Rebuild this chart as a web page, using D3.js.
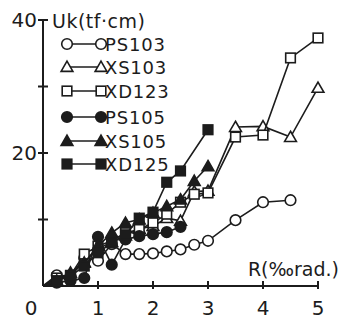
<!DOCTYPE html>
<html>
<head>
<meta charset="utf-8">
<script src="https://cdn.jsdelivr.net/npm/d3@7"></script>
<style>
  body { margin: 0; background: #fff; }
  svg { display: block; }
  text { font-family: "DejaVu Sans", sans-serif; fill: #1c1c1c; }
</style>
</head>
<body>
<div id="chart"></div>
<script>
// data
var rSteps = [0, 0.25, 0.5, 0.75, 1.0, 1.25, 1.5, 1.75, 2.0, 2.25, 2.5, 2.75, 3.0, 3.5, 4.0, 4.5, 5.0]

var ps103R = [0, 0.25, 0.5, 0.75, 1.0, 1.25, 1.5, 1.75, 2.0, 2.25, 2.5, 2.75, 3.0, 3.5, 4.0, 4.5]
var ps103U = [0, 1.6, 1.5, 4.2, 3.8, 6.3, 4.8, 4.8, 4.9, 5.2, 5.5, 6.2, 6.8, 9.9, 12.6, 12.9]

var xs103R = rSteps
var xs103U = [0, 0.8, 1.6, 3.6, 5.6, 6.6, 7.6, 8.6, 9.0, 10.2, 9.8, 14.2, 14.3, 23.9, 24.0, 22.4, 29.8]

var xd123R = rSteps
var xd123U = [0, 1.2, 1.6, 4.8, 6.0, 6.8, 8.0, 8.5, 9.5, 10.8, 12.6, 13.8, 14.0, 22.4, 22.7, 34.3, 37.3]

var ps105R = [0, 0.25, 0.5, 0.75, 1.0, 1.25, 1.5, 1.75, 2.0, 2.25, 2.5]
var ps105U = [0, 0.5, 0.8, 1.2, 7.4, 3.2, 7.0, 7.5, 7.8, 8.1, 8.9]

var xs105R = [0, 0.25, 0.5, 0.75, 1.0, 1.25, 1.5, 1.75, 2.0, 2.25, 2.5, 2.75, 3.0]
var xs105U = [0, 0.8, 2.0, 3.5, 6.0, 8.0, 9.5, 10.0, 11.0, 12.0, 13.0, 15.8, 18.0]

var xd125R = [0, 0.25, 0.5, 0.75, 1.0, 1.25, 1.5, 1.75, 2.0, 2.25, 2.5, 3.0]
var xd125U = [0, 0.8, 1.5, 3.0, 5.0, 6.5, 7.7, 10.2, 11.1, 15.6, 17.3, 23.5]

var seriesNames = ['PS103', 'XS103', 'XD123', 'PS105', 'XS105', 'XD125']
var seriesMarks = ['circle', 'triangle', 'square', 'circle', 'triangle', 'square']
var seriesFilled = [false, false, false, true, true, true]

var xTicks = [0, 1, 2, 3, 4, 5]
var yTicks = [10, 20, 30, 40]
var yTickLabels = [20, 40]

var ink = '#1c1c1c'
var width = 343, height = 320

var x = d3.scaleLinear().domain([0, 5]).range([43, 318])
var y = d3.scaleLinear().domain([0, 40]).range([286, 20])

var svg = d3.select('#chart').append('svg')
    .attr('width', width).attr('height', height)

// axes lines
svg.append('line')
    .attr('x1', x(0)).attr('y1', y(0)).attr('x2', x(0)).attr('y2', y(40))
    .attr('stroke', ink).attr('stroke-width', 2)
svg.append('line')
    .attr('x1', x(0)).attr('y1', y(0)).attr('x2', x(5)).attr('y2', y(0))
    .attr('stroke', ink).attr('stroke-width', 2)

// ticks
svg.selectAll('.ytick').data(yTicks).enter().append('line')
    .attr('x1', x(0) - 5).attr('x2', x(0) + 5)
    .attr('y1', d => y(d)).attr('y2', d => y(d))
    .attr('stroke', ink).attr('stroke-width', 2)
svg.selectAll('.xtick').data(xTicks.slice(1)).enter().append('line')
    .attr('x1', d => x(d)).attr('x2', d => x(d))
    .attr('y1', y(0) - 5).attr('y2', y(0) + 3)
    .attr('stroke', ink).attr('stroke-width', 2)

// tick labels
svg.selectAll('.ylab').data(yTickLabels).enter().append('text')
    .attr('x', x(0) - 6).attr('y', d => y(d) + 7)
    .attr('text-anchor', 'end').attr('font-size', 20)
    .text(d => d)
svg.selectAll('.xlab').data(xTicks).enter().append('text')
    .attr('x', d => x(d) - (d == 0 ? 12 : 0)).attr('y', 315)
    .attr('text-anchor', 'middle').attr('font-size', 20)
    .text(d => d)

// axis titles
svg.append('text').attr('x', 52).attr('y', 28)
    .attr('font-size', 19).attr('letter-spacing', 0.5)
    .text('Uk(tf·cm)')
svg.append('text').attr('x', 339).attr('y', 276)
    .attr('text-anchor', 'end').attr('font-size', 19)
    .text('R(‰rad.)')

function drawMark(g, type, filled, cx, cy) {
  var fill = filled ? ink : '#fff'
  if (type == 'circle') {
    g.append('circle').attr('cx', cx).attr('cy', cy).attr('r', 5.3)
      .attr('fill', fill).attr('stroke', ink).attr('stroke-width', 1.6)
  } else if (type == 'square') {
    g.append('rect').attr('x', cx - 4.8).attr('y', cy - 4.8)
      .attr('width', 9.6).attr('height', 9.6)
      .attr('fill', fill).attr('stroke', ink).attr('stroke-width', 1.6)
  } else {
    g.append('path').attr('d', d3.symbol(d3.symbolTriangle, 60)())
      .attr('transform', 'translate(' + cx + ',' + (cy + 1) + ')')
      .attr('fill', fill).attr('stroke', ink).attr('stroke-width', 1.6)
  }
}

var allR = [ps103R, xs103R, xd123R, ps105R, xs105R, xd125R]
var allU = [ps103U, xs103U, xd123U, ps105U, xs105U, xd125U]

var line = d3.line().x(d => x(d[0])).y(d => y(d[1]))

for (var i = 0; i < 6; i++) {
  var pts = d3.zip(allR[i], allU[i])
  var g = svg.append('g')
  g.append('path').attr('d', line(pts))
    .attr('fill', 'none').attr('stroke', ink).attr('stroke-width', 1.6)
  pts.slice(1).forEach(p => drawMark(g, seriesMarks[i], seriesFilled[i], x(p[0]), y(p[1])))
}

// legend
var legY = [44, 67, 91, 117, 141, 164]
seriesNames.forEach(function(name, i) {
  var g = svg.append('g')
  g.append('line').attr('x1', 67).attr('x2', 101)
    .attr('y1', legY[i]).attr('y2', legY[i])
    .attr('stroke', ink).attr('stroke-width', 1.6)
  drawMark(g, seriesMarks[i], seriesFilled[i], 67, legY[i])
  drawMark(g, seriesMarks[i], seriesFilled[i], 101, legY[i])
  g.append('text').attr('x', 105).attr('y', legY[i] + 7)
    .attr('font-size', 18).attr('letter-spacing', 0.8)
    .text(name)
})
</script>
</body>
</html>
